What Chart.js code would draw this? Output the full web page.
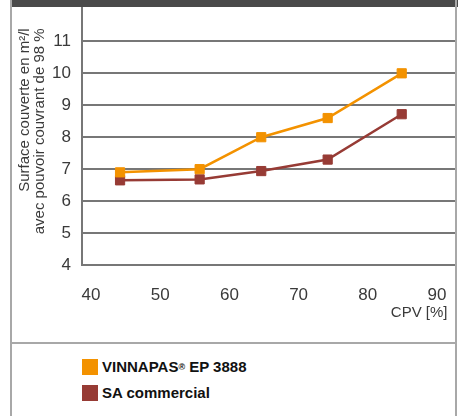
<!DOCTYPE html>
<html lang="fr">
<head>
<meta charset="UTF-8" />
<title>Surface couverte vs CPV</title>
<script src="https://cdn.jsdelivr.net/npm/chart.js"></script>
<style>
  body { margin: 0; background: #fff; font-family: "Liberation Sans", Arial, sans-serif; }
  #wrap { position: relative; width: 464px; height: 416px; overflow: hidden; }
  #band { position: absolute; left: 10px; top: 0; width: 448px; height: 7px; background: #4a4a4a; }
  #frameL { position: absolute; left: 10px; top: 0; width: 2px; height: 416px; background: #a8a8a8; }
  #frameR { position: absolute; left: 455px; top: 0; width: 2px; height: 416px; background: #a8a8a8; }
  #divider { position: absolute; left: 10px; top: 342px; width: 447px; height: 2px; background: #a8a8a8; }
  canvas { position: absolute; left: 0; top: 0; }
  .leg { position: absolute; left: 82px; display: flex; align-items: center; font-size: 15px; font-weight: bold; color: #111; }
  .leg span.box { width: 16px; height: 16px; margin-right: 4px; }
  sup { font-size: 9px; }
</style>
</head>
<body>
<div id="wrap">
  <canvas id="chart" width="464" height="343"></canvas>
  <div id="band"></div>
  <div id="frameL"></div>
  <div id="frameR"></div>
  <div id="divider"></div>
  <div class="leg" style="top:358px"><span class="box" style="background:#f39200"></span>VINNAPAS<sup>®</sup>&nbsp;EP 3888</div>
  <div class="leg" style="top:384px"><span class="box" style="background:#973b35"></span>SA commercial</div>
</div>
<script>
// CPV [%] of each measurement
const cpv = [44.2, 55.7, 64.6, 74.2, 84.9];
// surface covered (m²/l) at 98 % hiding power
const vinnapas = [6.9, 7.0, 8.0, 8.6, 10.0];
const saCommercial = [6.65, 6.68, 6.94, 7.3, 8.72];
const yTicks = [4, 5, 6, 7, 8, 9, 10, 11];
const xTicks = [40, 50, 60, 70, 80, 90];

const orange = "#f39200";
const red = "#973b35";

const toPoints = (xs, ys) => xs.map((x, i) => ({ x: x, y: ys[i] }));

// no extra room for half tick labels, keeps the plot box where it is
const noLabelPad = s => { s.paddingTop = 0; s.paddingBottom = 0; s.paddingLeft = 0; s.paddingRight = 0; };

new Chart(document.getElementById("chart"), {
  type: "line",
  data: {
    datasets: [
      {
        label: "VINNAPAS® EP 3888",
        data: toPoints(cpv, vinnapas),
        borderColor: orange,
        backgroundColor: orange,
        borderWidth: 2.5,
        pointStyle: "rect",
        pointRadius: 6.5,
        pointBorderWidth: 1,
        tension: 0
      },
      {
        label: "SA commercial",
        data: toPoints(cpv, saCommercial),
        borderColor: red,
        backgroundColor: red,
        borderWidth: 2.5,
        pointStyle: "rect",
        pointRadius: 6.5,
        pointBorderWidth: 1,
        tension: 0
      }
    ]
  },
  options: {
    responsive: false,
    animation: false,
    layout: { padding: { left: 0, right: 9, top: 7, bottom: 0 } },
    plugins: { legend: { display: false }, tooltip: { enabled: false } },
    scales: {
      x: {
        type: "linear",
        min: 38.7,
        max: 92.6,
        afterBuildTicks: s => { s.ticks = xTicks.map(v => ({ value: v })); },
        afterFit: s => { s.height = 78; noLabelPad(s); },
        grid: { display: false, drawTicks: false },
        border: { display: false },
        ticks: {
          padding: 20,
          color: "#3a3a3a",
          font: { family: "Liberation Sans", size: 17 }
        },
        title: {
          display: true,
          text: "CPV [%]\u2002",
          align: "end",
          color: "#3a3a3a",
          padding: { top: 0, bottom: 21 },
          font: { family: "Liberation Sans", size: 15 }
        }
      },
      y: {
        min: 4,
        max: 12.06,
        afterBuildTicks: s => { s.ticks = yTicks.map(v => ({ value: v })); },
        afterFit: s => { s.width = 82; noLabelPad(s); },
        grid: { color: "#777", lineWidth: 2, drawTicks: false },
        border: { display: true, color: "#777", width: 2 },
        ticks: {
          padding: 11,
          color: "#3a3a3a",
          font: { family: "Liberation Sans", size: 17 }
        },
        title: {
          display: true,
          text: ["Surface couverte en m²/l     ", "avec pouvoir couvrant de 98 %     "],
          align: "end",
          color: "#3a3a3a",
          padding: { top: 17 },
          font: { family: "Liberation Sans", size: 15, lineHeight: 1 }
        }
      }
    }
  }
});
</script>
</body>
</html>
